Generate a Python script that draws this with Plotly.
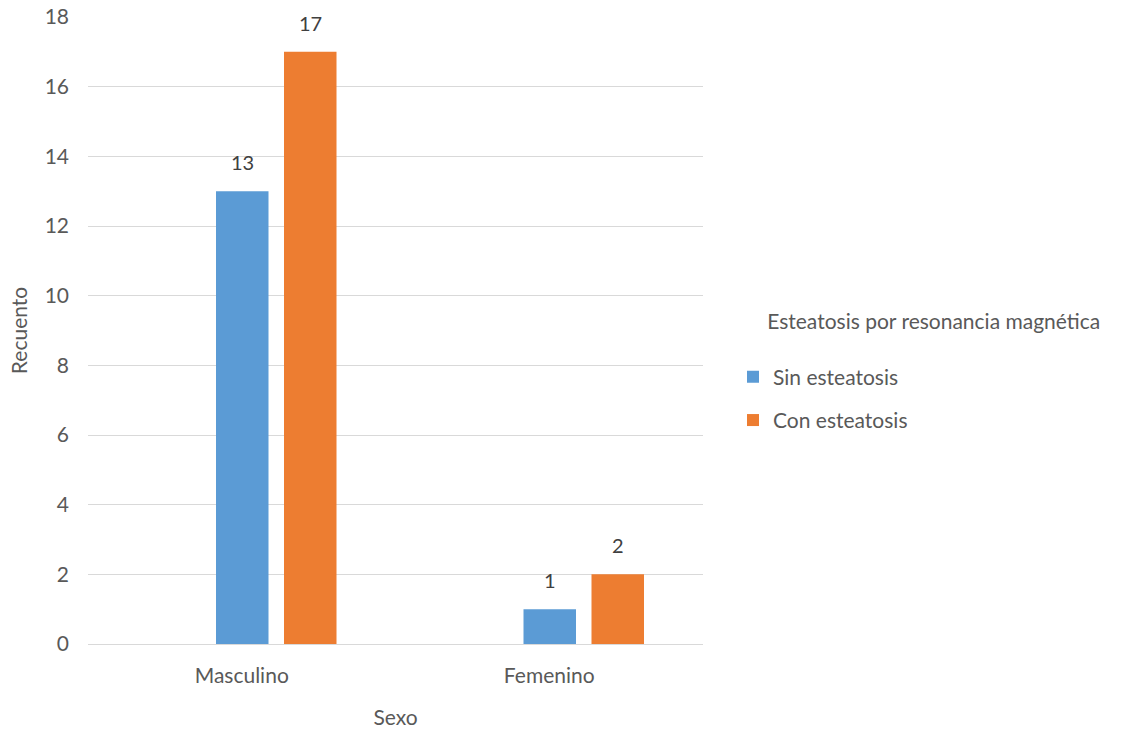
import plotly.graph_objects as go

categories = ["Masculino", "Femenino"]
sin_esteatosis = [13, 1]
con_esteatosis = [17, 2]
series_names = ["Sin esteatosis", "Con esteatosis"]
y_ticks = [0, 2, 4, 6, 8, 10, 12, 14, 16, 18]

FONT = "Lato, 'Open Sans', sans-serif"
GRAY = "#595959"
FS = 21

# plot geometry (pixels)
L, R, T, B = 88, 422, 17, 86
PLOT_W = 1125 - L - R
PLOT_H = 730 - T - B
PX_PER_CAT = PLOT_W / len(categories)
BAR_W = 52.5 / PX_PER_CAT
OFFSETS = [-25.75 / PX_PER_CAT, 42.25 / PX_PER_CAT]

fig = go.Figure()
annotations = []
for i, (name, vals, color, grp) in enumerate([
    (series_names[0], sin_esteatosis, "#5b9bd5", "a"),
    (series_names[1], con_esteatosis, "#ed7d31", "b"),
]):
    fig.add_trace(go.Bar(
        x=categories, y=vals, name=name, marker_color=color,
        marker_line_width=0, legendgroup=grp,
        width=[BAR_W] * len(vals), offset=[OFFSETS[i]] * len(vals),
    ))
    for c, v in zip(categories, vals):
        annotations.append(dict(
            x=c, y=v, xref="x", yref="y", text=str(v), showarrow=False,
            yanchor="bottom", xanchor="center", yshift=15,
            xshift=(OFFSETS[i] + BAR_W / 2) * PX_PER_CAT,
            font=dict(size=FS - 1, color="#404040", family=FONT),
        ))

fig.update_layout(
    width=1125, height=730,
    margin=dict(l=L, r=R, t=T, b=B),
    paper_bgcolor="white", plot_bgcolor="white",
    barmode="overlay",
    font=dict(family=FONT, color=GRAY, size=FS),
    annotations=annotations,
    legend=dict(
        title=dict(text="&nbsp;" * 6 + "Esteatosis por resonancia magnética<br> ",
                   font=dict(size=FS, color=GRAY)),
        x=(733 - L) / PLOT_W, y=(644 - 302) / PLOT_H, xanchor="left", yanchor="top",
        font=dict(size=FS, color=GRAY), tracegroupgap=13,
        itemwidth=30,
    ),
    xaxis=dict(
        title=dict(text="Sexo", font=dict(size=FS, color=GRAY), standoff=24),
        showgrid=False, showline=False, ticks="", automargin=False,
        ticklabelstandoff=17,
        tickfont=dict(size=FS, color=GRAY),
    ),
    yaxis=dict(
        title=dict(text="Recuento", font=dict(size=FS, color=GRAY), standoff=11),
        range=[0, 18], tickvals=y_ticks, showgrid=True, gridcolor="#d9d9d9",
        gridwidth=1, zeroline=True, zerolinecolor="#d9d9d9", zerolinewidth=1,
        ticks="", ticklabelstandoff=18, tickfont=dict(size=FS, color=GRAY),
        automargin=False,
    ),
)

fig.write_html("out.html")
